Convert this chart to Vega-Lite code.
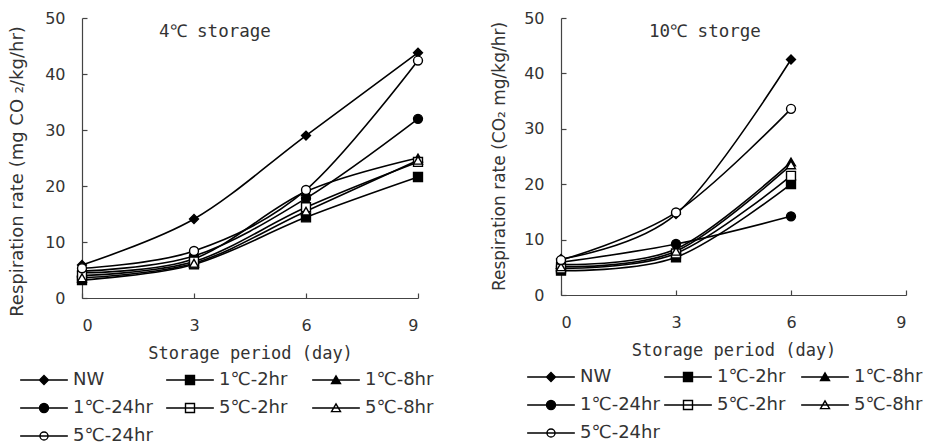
{
  "$schema": "https://vega.github.io/schema/vega-lite/v6.json",
  "background": "white",
  "padding": {"left": 8, "top": 10, "right": 5, "bottom": 0},
  "spacing": 56,
  "datasets": {
    "s4": [
      {"series": "NW", "day": 0, "rate": 5.9},
      {"series": "NW", "day": 3, "rate": 14.1},
      {"series": "NW", "day": 6, "rate": 29.0},
      {"series": "NW", "day": 9, "rate": 43.8},
      {"series": "1℃-2hr", "day": 0, "rate": 3.2},
      {"series": "1℃-2hr", "day": 3, "rate": 6.0},
      {"series": "1℃-2hr", "day": 6, "rate": 14.4},
      {"series": "1℃-2hr", "day": 9, "rate": 21.6},
      {"series": "1℃-8hr", "day": 0, "rate": 4.5},
      {"series": "1℃-8hr", "day": 3, "rate": 7.0},
      {"series": "1℃-8hr", "day": 6, "rate": 19.0},
      {"series": "1℃-8hr", "day": 9, "rate": 25.0},
      {"series": "1℃-24hr", "day": 0, "rate": 4.8},
      {"series": "1℃-24hr", "day": 3, "rate": 7.5},
      {"series": "1℃-24hr", "day": 6, "rate": 17.8},
      {"series": "1℃-24hr", "day": 9, "rate": 32.0},
      {"series": "5℃-2hr", "day": 0, "rate": 4.0},
      {"series": "5℃-2hr", "day": 3, "rate": 6.5},
      {"series": "5℃-2hr", "day": 6, "rate": 16.2},
      {"series": "5℃-2hr", "day": 9, "rate": 24.3},
      {"series": "5℃-8hr", "day": 0, "rate": 3.6},
      {"series": "5℃-8hr", "day": 3, "rate": 6.2},
      {"series": "5℃-8hr", "day": 6, "rate": 15.5},
      {"series": "5℃-8hr", "day": 9, "rate": 24.6},
      {"series": "5℃-24hr", "day": 0, "rate": 5.3},
      {"series": "5℃-24hr", "day": 3, "rate": 8.4},
      {"series": "5℃-24hr", "day": 6, "rate": 19.3},
      {"series": "5℃-24hr", "day": 9, "rate": 42.4}
    ],
    "s10": [
      {"series": "NW", "day": 0, "rate": 6.5},
      {"series": "NW", "day": 3, "rate": 14.6},
      {"series": "NW", "day": 6, "rate": 42.5},
      {"series": "1℃-2hr", "day": 0, "rate": 4.4},
      {"series": "1℃-2hr", "day": 3, "rate": 6.8},
      {"series": "1℃-2hr", "day": 6, "rate": 20.0},
      {"series": "1℃-8hr", "day": 0, "rate": 5.5},
      {"series": "1℃-8hr", "day": 3, "rate": 8.3},
      {"series": "1℃-8hr", "day": 6, "rate": 24.0},
      {"series": "1℃-24hr", "day": 0, "rate": 5.9},
      {"series": "1℃-24hr", "day": 3, "rate": 9.2},
      {"series": "1℃-24hr", "day": 6, "rate": 14.2},
      {"series": "5℃-2hr", "day": 0, "rate": 4.8},
      {"series": "5℃-2hr", "day": 3, "rate": 7.5},
      {"series": "5℃-2hr", "day": 6, "rate": 21.5},
      {"series": "5℃-8hr", "day": 0, "rate": 5.1},
      {"series": "5℃-8hr", "day": 3, "rate": 7.9},
      {"series": "5℃-8hr", "day": 6, "rate": 23.5},
      {"series": "5℃-24hr", "day": 0, "rate": 6.3},
      {"series": "5℃-24hr", "day": 3, "rate": 14.9},
      {"series": "5℃-24hr", "day": 6, "rate": 33.6}
    ]
  },
  "hconcat": [
    {
      "width": 336,
      "height": 280,
      "data": {"name": "s4"},
      "title": {"text": "4℃ storage", "anchor": "start", "frame": "group", "dx": 77, "offset": -30},
      "encoding": {
        "x": {"field": "day", "type": "quantitative", "scale": {"domain": [0, 9], "nice": false}, "axis": {"values": [0, 3, 6, 9], "title": "Storage period (day)"}},
        "y": {"field": "rate", "type": "quantitative", "scale": {"domain": [0, 50], "nice": false}, "axis": {"values": [0, 10, 20, 30, 40, 50], "title": "Respiration rate (mg CO ₂/kg/hr)", "titleY": 153}}
      },
      "layer": [
        {"mark": {"type": "line", "interpolate": "cardinal", "tension": 0, "color": "black", "strokeWidth": 1.6}, "encoding": {"detail": {"field": "series"}}},
        {
          "mark": {"type": "point", "filled": true, "stroke": "black", "strokeWidth": 1.4, "size": 80, "opacity": 1},
          "encoding": {
            "shape": {"field": "series", "scale": {"domain": ["NW", "1℃-2hr", "1℃-8hr", "1℃-24hr", "5℃-2hr", "5℃-8hr", "5℃-24hr"], "range": ["diamond", "square", "triangle-up", "circle", "square", "triangle-up", "circle"]}, "legend": null},
            "fill": {"field": "series", "scale": {"domain": ["NW", "1℃-2hr", "1℃-8hr", "1℃-24hr", "5℃-2hr", "5℃-8hr", "5℃-24hr"], "range": ["black", "black", "black", "black", "white", "white", "white"]}, "legend": null}
          }
        },
        {
          "transform": [{"filter": "datum.day < 0"}],
          "mark": {"type": "point", "filled": true, "stroke": "black", "strokeWidth": 1.4, "opacity": 1},
          "encoding": {
            "shape": {"field": "series", "scale": {"domain": ["NW", "1℃-2hr", "1℃-8hr", "1℃-24hr", "5℃-2hr", "5℃-8hr", "5℃-24hr"], "range": [
              "M-5.3,0L5.3,0M-1,0L0,-1L1,0L0,1Z",
              "M-5.3,0L5.3,0M-1,-1L1,-1L1,1L-1,1Z",
              "M-5.3,0L5.3,0M-1,0.8L0,-0.9L1,0.8Z",
              "M-5.3,0L5.3,0M1,0A1,1,0,1,1,-1,0A1,1,0,1,1,1,0Z",
              "M-5.3,0L5.3,0M-1,-1L1,-1L1,1L-1,1Z",
              "M-5.3,0L5.3,0M-1,0.8L0,-0.9L1,0.8Z",
              "M-5.3,0L5.3,0M0.9,0A0.9,0.9,0,1,1,-0.9,0A0.9,0.9,0,1,1,0.9,0Z"
            ]}, "legend": {"orient": "none", "legendX": -66, "legendY": 353, "columnPadding": 9, "encode": {"symbols": {"update": {"stroke": {"value": "black"}, "strokeWidth": {"value": 1.4}, "opacity": {"value": 1}}}}}},
            "fill": {"field": "series", "scale": {"domain": ["NW", "1℃-2hr", "1℃-8hr", "1℃-24hr", "5℃-2hr", "5℃-8hr", "5℃-24hr"], "range": ["black", "black", "black", "black", "white", "white", "white"]}, "legend": {"orient": "none", "legendX": -66, "legendY": 353, "columnPadding": 9, "encode": {"symbols": {"update": {"stroke": {"value": "black"}, "strokeWidth": {"value": 1.4}, "opacity": {"value": 1}}}}}}
          }
        }
      ],
      "resolve": {"scale": {"shape": "independent", "fill": "independent"}}
    },
    {
      "width": 345,
      "height": 277,
      "data": {"name": "s10"},
      "title": {"text": "10℃ storge", "anchor": "start", "frame": "group", "dx": 88, "offset": -30},
      "encoding": {
        "x": {"field": "day", "type": "quantitative", "scale": {"domain": [0, 9], "nice": false}, "axis": {"values": [0, 3, 6, 9], "title": "Storage period (day)"}},
        "y": {"field": "rate", "type": "quantitative", "scale": {"domain": [0, 50], "nice": false}, "axis": {"values": [0, 10, 20, 30, 40, 50], "title": "Respiration rate (CO₂ mg/kg/hr)", "titleY": 138, "titleFontSize": 17, "titlePadding": 15}}
      },
      "layer": [
        {"mark": {"type": "line", "interpolate": "cardinal", "tension": 0, "color": "black", "strokeWidth": 1.6}, "encoding": {"detail": {"field": "series"}}},
        {
          "mark": {"type": "point", "filled": true, "stroke": "black", "strokeWidth": 1.4, "size": 80, "opacity": 1},
          "encoding": {
            "shape": {"field": "series", "scale": {"domain": ["NW", "1℃-2hr", "1℃-8hr", "1℃-24hr", "5℃-2hr", "5℃-8hr", "5℃-24hr"], "range": ["diamond", "square", "triangle-up", "circle", "square", "triangle-up", "circle"]}, "legend": null},
            "fill": {"field": "series", "scale": {"domain": ["NW", "1℃-2hr", "1℃-8hr", "1℃-24hr", "5℃-2hr", "5℃-8hr", "5℃-24hr"], "range": ["black", "black", "black", "black", "white", "white", "white"]}, "legend": null}
          }
        },
        {
          "transform": [{"filter": "datum.day < 0"}],
          "mark": {"type": "point", "filled": true, "stroke": "black", "strokeWidth": 1.4, "opacity": 1},
          "encoding": {
            "shape": {"field": "series", "scale": {"domain": ["NW", "1℃-2hr", "1℃-8hr", "1℃-24hr", "5℃-2hr", "5℃-8hr", "5℃-24hr"], "range": [
              "M-5.3,0L5.3,0M-1,0L0,-1L1,0L0,1Z",
              "M-5.3,0L5.3,0M-1,-1L1,-1L1,1L-1,1Z",
              "M-5.3,0L5.3,0M-1,0.8L0,-0.9L1,0.8Z",
              "M-5.3,0L5.3,0M1,0A1,1,0,1,1,-1,0A1,1,0,1,1,1,0Z",
              "M-5.3,0L5.3,0M-1,-1L1,-1L1,1L-1,1Z",
              "M-5.3,0L5.3,0M-1,0.8L0,-0.9L1,0.8Z",
              "M-5.3,0L5.3,0M0.9,0A0.9,0.9,0,1,1,-0.9,0A0.9,0.9,0,1,1,0.9,0Z"
            ]}, "legend": {"orient": "none", "legendX": -38, "legendY": 350, "columnPadding": 0, "encode": {"symbols": {"update": {"stroke": {"value": "black"}, "strokeWidth": {"value": 1.4}, "opacity": {"value": 1}}}}}},
            "fill": {"field": "series", "scale": {"domain": ["NW", "1℃-2hr", "1℃-8hr", "1℃-24hr", "5℃-2hr", "5℃-8hr", "5℃-24hr"], "range": ["black", "black", "black", "black", "white", "white", "white"]}, "legend": {"orient": "none", "legendX": -38, "legendY": 350, "columnPadding": 0, "encode": {"symbols": {"update": {"stroke": {"value": "black"}, "strokeWidth": {"value": 1.4}, "opacity": {"value": 1}}}}}}
          }
        }
      ],
      "resolve": {"scale": {"shape": "independent", "fill": "independent"}}
    }
  ],
  "config": {
    "view": {"stroke": null},
    "font": "DejaVu Sans",
    "title": {"font": "DejaVu Sans Mono", "fontSize": 17.5, "fontWeight": "normal", "color": "#333", "baseline": "top"},
    "axis": {
      "grid": false,
      "domainColor": "#444",
      "domainWidth": 1.2,
      "tickColor": "#444",
      "tickSize": -5,
      "tickWidth": 1.2,
      "labelFont": "DejaVu Sans",
      "labelFontSize": 16,
      "labelColor": "#333",
      "titleColor": "#333",
      "titleFontWeight": "normal"
    },
    "axisX": {"labelPadding": 24, "titlePadding": 12, "titleFont": "DejaVu Sans Mono", "titleFontSize": 17},
    "axisY": {"labelPadding": 22, "titlePadding": 18, "titleFont": "DejaVu Sans", "titleFontSize": 18},
    "legend": {
      "title": null,
      "direction": "horizontal",
      "columns": 3,
      "gridAlign": "all",
      "rowPadding": 10,
      "symbolSize": 81,
      "symbolOffset": 19,
      "labelOffset": 20,
      "symbolStrokeColor": "black",
      "symbolStrokeWidth": 1.4,
      "symbolOpacity": 1,
      "labelFont": "DejaVu Sans",
      "labelFontSize": 18,
      "labelColor": "#333",
      "labelLimit": 200
    }
  }
}
